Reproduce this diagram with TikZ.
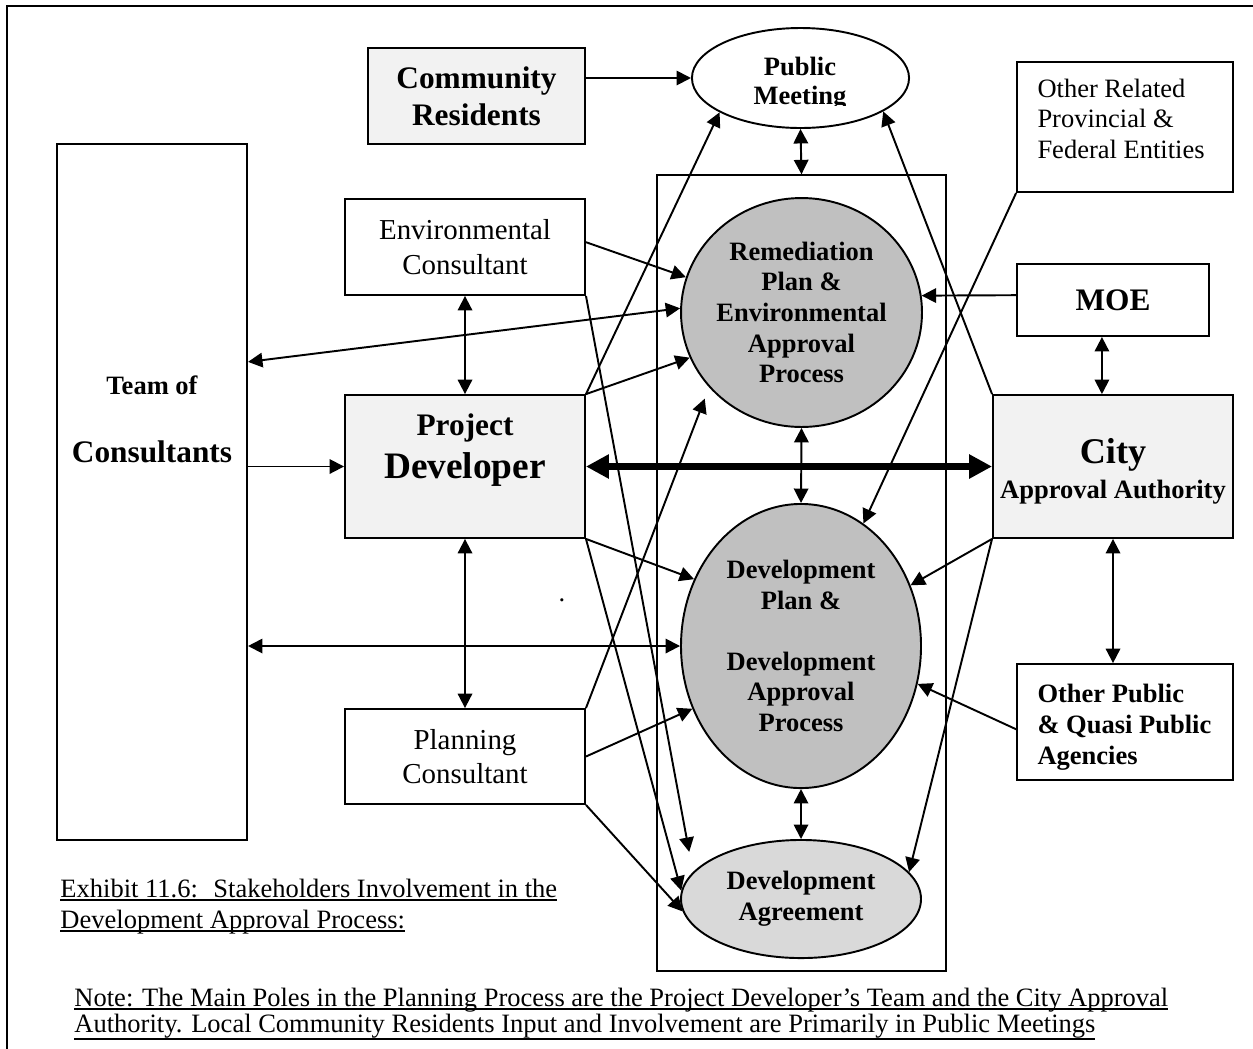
\documentclass[tikz,border=0pt]{standalone}
\usepackage{fontspec}
\setmainfont{Liberation Serif}
\usetikzlibrary{shapes.geometric,arrows.meta}
\newcommand\ultext[2][1.6pt]{\setbox0\hbox{#2}\rlap{\rule[-#1]{\wd0}{0.9pt}}\box0}
\definecolor{lightfill}{HTML}{F2F2F2}
\definecolor{procfill}{HTML}{C0C0C0}
\definecolor{dealfill}{HTML}{D9D9D9}

\begin{document}
\begin{tikzpicture}[x=0.415pt,y=-0.415pt,
  box/.style={draw,line width=0.8pt,inner sep=0pt,align=center},
  proc/.style={ellipse,draw,line width=0.8pt,inner sep=0pt,align=center,font=\fontsize{11}{12.7}\selectfont\bfseries},
  link/.style={line width=0.8pt,-{Triangle[length=6pt,width=6pt]}},
  twoway/.style={line width=0.8pt,{Triangle[length=6pt,width=6pt]}-{Triangle[length=6pt,width=6pt]}},
  txt/.style={inner sep=0pt,anchor=base},
  capt/.style={inner sep=0pt,anchor=base west,font=\fontsize{11}{13}\selectfont}]
\useasboundingbox (0,0) rectangle (1253,1048);
\draw[line width=0.9pt] (7,6) rectangle (1262,1062);

% left side: developer's team
\node[box,minimum width=78.9pt,minimum height=288.8pt] (team) at (152,492) {};
\node[txt,font=\fontsize{11}{13}\selectfont\bfseries] (teamof) at (152,394) {Team of};
\node[txt,font=\fontsize{13}{15}\selectfont\bfseries] (consult) at (152,462) {Consultants};
\node[box,fill=lightfill,minimum width=90.1pt,minimum height=39.8pt,font=\fontsize{13}{15.4}\selectfont\bfseries] (cr) at (476.5,96) {Community\\Residents};
\node[box,minimum width=99.6pt,minimum height=39.8pt,font=\fontsize{12}{14.2}\selectfont] (ec) at (465,247) {Environmental\\Consultant};
\node[box,fill=lightfill,minimum width=99.6pt,minimum height=59.3pt] (pd) at (465,466.5) {};
\node[txt,font=\fontsize{13}{15}\selectfont\bfseries] (pdtop) at (465,435) {Project};
\node[txt,font=\fontsize{15.5}{17}\selectfont\bfseries] (pdbot) at (465,478) {Developer};
\node[box,minimum width=99.6pt,minimum height=39.4pt,font=\fontsize{12}{14.2}\selectfont] (pc) at (465,756.5) {Planning\\Consultant};
\node[txt,font=\fontsize{11}{13}\selectfont] (dot) at (562,601) {.};

% middle: approval process
\node[ellipse,draw,line width=0.8pt,minimum width=90.1pt,minimum height=41.5pt] (pm) at (800.5,78) {};
\begin{scope}
\clip (690,20) rectangle (912,105);
\node[txt,font=\fontsize{11}{13}\selectfont\bfseries] (pmtop) at (800,75) {Public};
\node[txt,font=\fontsize{11}{13}\selectfont\bfseries] (pmbot) at (800,104) {Meeting};
\end{scope}
\node[draw,line width=0.6pt,minimum width=119.9pt,minimum height=330.3pt] (frame) at (801.5,573) {};
\node[proc,fill=procfill,minimum width=100pt,minimum height=95pt] (rem) at (801.5,312.5) {Remediation\\Plan \&\\Environmental\\Approval\\Process};
\node[proc,fill=procfill,minimum width=99.6pt,minimum height=117.9pt] (dp) at (801,646) {Development\\Plan \&\\[12.7pt]Development\\Approval\\Process};
\node[proc,fill=dealfill,minimum width=99.6pt,minimum height=49pt] (da) at (801,899) {Development\\Agreement};

% right side: authorities
\node[box,minimum width=89.6pt,minimum height=54pt] (other) at (1125,127) {};
\foreach \lbl [count=\i] in {Other Related,Provincial \&,Federal Entities}
  \node[txt,anchor=base west,font=\fontsize{11}{13}\selectfont] (other\i) at (1037,66.5+30.5*\i) {\lbl};
\node[box,minimum width=79.7pt,minimum height=29.9pt,font=\fontsize{13}{15}\selectfont\bfseries] (moe) at (1113,300) {MOE};
\node[box,fill=lightfill,minimum width=99.6pt,minimum height=59.3pt] (city) at (1113,466.5) {};
\node[txt,font=\fontsize{15}{17}\selectfont\bfseries] (citytop) at (1113,463) {City};
\node[txt,font=\fontsize{11}{13}\selectfont\bfseries] (citybot) at (1113,498) {Approval Authority};
\node[box,minimum width=89.6pt,minimum height=48.1pt] (op) at (1125,722) {};
\foreach \lbl [count=\i] in {Other Public,\& Quasi Public,Agencies}
  \node[txt,anchor=base west,font=\fontsize{11}{13}\selectfont\bfseries] (op\i) at (1037,671.5+31*\i) {\lbl};

% connectors
\draw[link] (cr.east |- pm.west) -- (pm.west);
\draw[twoway] (pm.south) -- (frame.north);
\draw[twoway] (rem.south) -- (dp.north);
\draw[twoway] (dp.south) -- (da.north);
\draw[twoway] (ec.south) -- (pd.north);
\draw[twoway] (pd.south) -- (pc.north);
\draw[link] (team.east |- pd.west) -- (pd.west);
\draw[line width=3.3pt,{Triangle[length=9.5pt,width=9.5pt]}-{Triangle[length=9.5pt,width=9.5pt]}] (pd.east) -- (city.west);
\draw[twoway] ([yshift=54pt]team.east) -- (rem.178);
\draw[twoway] (team.east |- dp.west) -- (dp.west);
\draw[link] ([yshift=2pt]ec.east) -- (rem.163);
\draw[link] (pd.north east) -- (rem.202);
\draw[link] (pd.north east) -- (pm.203);
\draw[link] (pd.south east) -- (dp.148);
\draw[link] (pd.south east) -- (da.176);
\draw[link,shorten >=8.5pt] (ec.south east) -- (da.166);
\draw[link] (pc.east) -- (dp.210);
\draw[link,shorten >=5pt] (pc.north east) -- (rem.219);
\draw[link] (pc.south east) -- (da.186);
\draw[link] ([yshift=2pt]moe.west) -- (rem.8);
\draw[twoway] ([xshift=-4.6pt]moe.south) -- ([xshift=-4.6pt]city.north);
\draw[link] (city.north west) -- (pm.338);
\draw[link] (other.south west) -- (dp.63);
\draw[link] (city.south west) -- (dp.29);
\draw[link] (city.south west) -- (da.14);
\draw[twoway] (city.south) -- (city.south |- op.north);
\draw[link] ([yshift=-3pt]op.west) -- (dp.342);

% caption and note
\node[capt] (exh1) at (60,897) {\ultext{Exhibit 11.6:~ Stakeholders Involvement in the}};
\node[capt] (exh2) at (60,928) {\ultext{Development Approval Process:}};
\node[capt] (note1) at (74,1006) {\ultext{Note: The Main Poles in the Planning Process are the Project Developer’s Team and the City Approval}};
\node[capt] (note2) at (74,1032) {\ultext[3.2pt]{Authority. Local Community Residents Input and Involvement are Primarily in Public Meetings}};
\end{tikzpicture}
\end{document}
